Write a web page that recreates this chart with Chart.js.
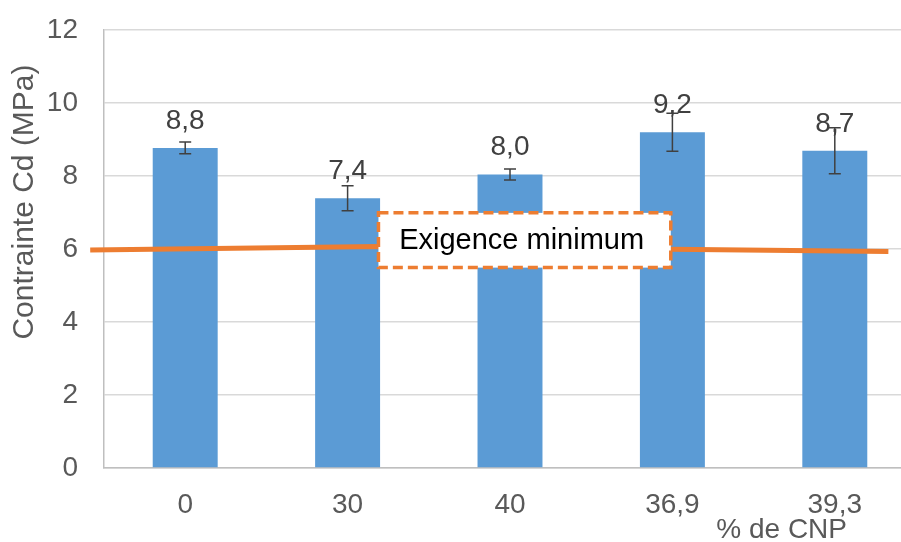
<!DOCTYPE html>
<html>
<head>
<meta charset="utf-8">
<script src="https://cdn.jsdelivr.net/npm/chart.js@4.4.0/dist/chart.umd.min.js"></script>
<style>
  html, body { margin: 0; padding: 0; background: #fff; overflow: hidden; }
  #wrap { width: 930px; height: 542px; }
</style>
</head>
<body>
<div id="wrap"><canvas id="grafico" width="930" height="542"></canvas></div>
<script>
// donnees
const categories = ['0', '30', '40', '36,9', '39,3'];
const contrainte = [8.77, 7.39, 8.04, 9.2, 8.69];
const ecartType = [0.16, 0.34, 0.15, 0.52, 0.63];
const yTicks = [0, 2, 4, 6, 8, 10, 12];

// trait "Exigence minimum" (x en index de categorie)
const exigenceX = [-0.585, 1.19, 2.99, 4.33];
const exigenceY = [5.97, 6.07, 5.99, 5.93];
// cadre de l'etiquette : x de 1.19 a 2.99, y de 6.99 a 5.49
const cadreX = [1.19, 2.99];
const cadreY = [6.99, 5.49];

const police = '"Liberation Sans", Arial, sans-serif';
const gris = '#595959';

const extras = {
  id: 'extras',
  afterDatasetsDraw(chart) {
    const ctx = chart.ctx;
    const y = chart.scales.y;
    const xl = chart.scales.xLine;
    const meta = chart.getDatasetMeta(0);
    ctx.save();

    // barres d'erreur
    ctx.strokeStyle = '#404040';
    ctx.lineWidth = 1.5;
    meta.data.forEach((bar, i) => {
      const top = y.getPixelForValue(contrainte[i] + ecartType[i]);
      const bot = y.getPixelForValue(contrainte[i] - ecartType[i]);
      ctx.beginPath();
      ctx.moveTo(bar.x, top); ctx.lineTo(bar.x, bot);
      ctx.moveTo(bar.x - 6, top); ctx.lineTo(bar.x + 6, top);
      ctx.moveTo(bar.x - 6, bot); ctx.lineTo(bar.x + 6, bot);
      ctx.stroke();
    });

    // etiquettes de valeur
    ctx.fillStyle = '#404040';
    ctx.font = '28px ' + police;
    ctx.textAlign = 'center';
    ctx.textBaseline = 'middle';
    meta.data.forEach((bar, i) => {
      ctx.fillText(contrainte[i].toFixed(1).replace('.', ','), bar.x, bar.y - 27);
    });

    // cadre "Exigence minimum"
    const x1 = xl.getPixelForValue(cadreX[0]);
    const x2 = xl.getPixelForValue(cadreX[1]);
    const y1 = y.getPixelForValue(cadreY[0]);
    const y2 = y.getPixelForValue(cadreY[1]);
    ctx.fillStyle = '#fff';
    ctx.fillRect(x1, y1, x2 - x1, y2 - y1);
    ctx.setLineDash([10, 5]);
    ctx.strokeStyle = '#ED7D31';
    ctx.lineWidth = 3.5;
    ctx.strokeRect(x1, y1, x2 - x1, y2 - y1);
    ctx.setLineDash([]);
    ctx.fillStyle = '#000';
    ctx.font = '29px ' + police;
    ctx.fillText('Exigence minimum', (x1 + x2) / 2 - 3, (y1 + y2) / 2 + 1);

    // titres des axes
    const area = chart.chartArea;
    ctx.font = '28px ' + police;
    ctx.fillStyle = gris;
    ctx.textAlign = 'right';
    ctx.textBaseline = 'alphabetic';
    ctx.fillText('% de CNP', area.right - 69, area.bottom + 70);

    ctx.font = '30px ' + police;
    ctx.translate(25, 202);
    ctx.rotate(-Math.PI / 2);
    ctx.textAlign = 'center';
    ctx.textBaseline = 'middle';
    ctx.fillText('Contrainte Cd (MPa)', 0, 0);
    ctx.restore();
  }
};

const grafico = new Chart(document.getElementById('grafico'), {
  type: 'bar',
  data: {
    labels: categories,
    datasets: [
      {
        label: 'Contrainte Cd',
        data: contrainte,
        backgroundColor: '#5B9BD5',
        barPercentage: 0.4,
        categoryPercentage: 1,
        grouped: false,
        order: 2
      },
      {
        type: 'line',
        label: 'Exigence minimum',
        data: exigenceX.map((v, i) => ({ x: v, y: exigenceY[i] })),
        xAxisID: 'xLine',
        borderColor: '#ED7D31',
        borderWidth: 5,
        pointRadius: 0,
        tension: 0,
        clip: false,
        order: 1
      }
    ]
  },
  options: {
    responsive: false,
    animation: false,
    layout: { padding: { left: 0, right: 14, top: 30, bottom: 0 } },
    plugins: {
      legend: { display: false },
      tooltip: { enabled: false }
    },
    scales: {
      x: {
        offset: true,
        grid: { display: false, drawTicks: false },
        border: { color: '#bfbfbf', width: 1.5 },
        ticks: { color: gris, font: { family: police, size: 28 }, padding: 20 },
        afterFit: (s) => { s.height = 74; }
      },
      xLine: {
        type: 'linear',
        display: false,
        offset: false,
        min: -0.5,
        max: 4.5
      },
      y: {
        min: 0,
        max: 12,
        afterBuildTicks: (s) => { s.ticks = yTicks.map(v => ({ value: v })); },
        grid: { color: '#d9d9d9', lineWidth: 1.5, drawTicks: true, tickLength: 26, tickColor: 'rgba(0,0,0,0)' },
        border: { color: '#bfbfbf', width: 1.5 },
        ticks: { color: gris, font: { family: police, size: 28 }, padding: 0 },
        afterFit: (s) => { s.width = 104; }
      }
    }
  },
  plugins: [extras]
});
</script>
</body>
</html>
